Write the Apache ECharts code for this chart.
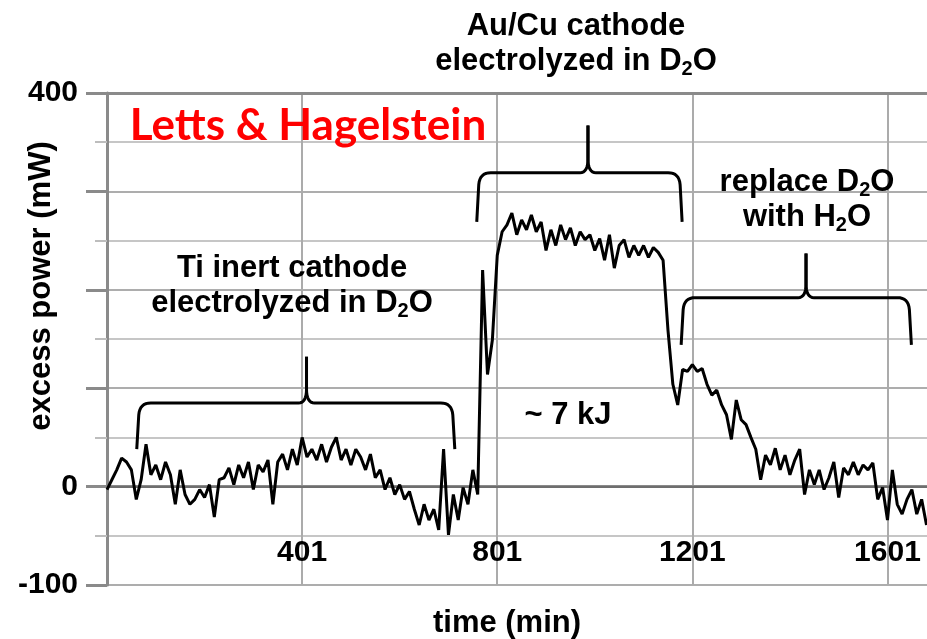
<!DOCTYPE html>
<html>
<head>
<meta charset="utf-8">
<title>Letts &amp; Hagelstein - excess power</title>
<script src="https://cdn.jsdelivr.net/npm/echarts@6/dist/echarts.min.js"></script>
<style>
    html, body { margin: 0; padding: 0; background: #fff; }
    #chart { width: 927px; height: 639px; }
</style>
</head>
<body>
<div id="chart"></div>
<script>
(function () {
    "use strict";

    // one reading every 10 min, first one at t = 1 min
    var startMin = 1;
    var stepMin = 10;

    // excess power (mW), by phase
    var powerTiD2O = [
        -3, 7, 17, 29, 25, 17, -13, 7, 43, 12,
        22, 7, 25, 12, -18, 17, -8, -18, -13, -3,
        -11, 2, -31, 7, 9, 19, 2, 22, 9, 25,
        -3, 22, 15, 27, -18, 25, 33, 17, 38, 22,
        50, 30, 38, 27, 43, 25, 40, 50, 27, 38,
        22, 38, 30, 17, 33, 9, 17, -3, 9, -8,
        2, -13, -5, -23, -39, -18, -34, -23, -44, 38,
        -49, -8, -34, -1, -18, 17, -8
    ];
    var powerAuCuD2O = [
        220, 114, 149, 235, 259, 266, 278, 256, 271, 261,
        276, 259, 269, 240, 261, 245, 266, 251, 263, 245,
        259, 251, 256, 240, 252, 230, 256, 222, 245, 251,
        233, 245, 235, 245, 233, 243, 238, 230, 159, 104
    ];
    var powerH2O = [
        83, 119, 117, 124, 117, 120, 104, 93, 98, 83,
        73, 48, 88, 68, 63, 50, 38, 7, 32, 22,
        39, 17, 32, 12, 27, 38, -8, 17, 2, 17,
        -3, 9, 25, -11, 19, 12, 25, 12, 22, 17,
        24, -13, -1, -34, 17, -18, -28, -13, -3, -28,
        -13, -39
    ];

    var timeTickLabels = [401, 801, 1201, 1601];
    var powerTickLabels = [-100, 0, 400];

    // braces: [from, to, stem, leg end, bar, tip] in axis units
    var braces = [
        [62, 714, 410, 38, 85, 132],
        [759, 1180, 987, 269, 319, 367],
        [1178, 1650, 1434, 144, 192, 237]
    ];

    var FONT = '"Liberation Sans", Arial, sans-serif';

    function buildSeriesData() {
        var all = powerTiD2O.concat(powerAuCuD2O, powerH2O);
        return all.map(function (v, i) {
            return [startMin + i * stepMin, v];
        });
    }

    function quad(p0, c, p1, out) {
        for (var k = 1; k <= 8; k++) {
            var t = k / 8, u = 1 - t;
            out.push([u * u * p0[0] + 2 * u * t * c[0] + t * t * p1[0],
                      u * u * p0[1] + 2 * u * t * c[1] + t * t * p1[1]]);
        }
    }

    function halfBrace(xEnd, yLeg, xStem, yBar, yTip, dir) {
        var pts = [[xEnd, yLeg], [xEnd + dir * 2, yBar + 12]];
        quad([xEnd + dir * 2, yBar + 12], [xEnd + dir * 3, yBar], [xEnd + dir * 14, yBar], pts);
        pts.push([xStem - dir * 8, yBar]);
        quad([xStem - dir * 8, yBar], [xStem, yBar], [xStem, yBar - 14], pts);
        pts.push([xStem, yTip]);
        return pts;
    }

    function renderBrace(params, api) {
        var a = api.coord([api.value(0), api.value(3)]);
        var b = api.coord([api.value(1), api.value(3)]);
        var m = api.coord([api.value(2), api.value(4)]);
        var tip = api.coord([api.value(2), api.value(5)]);
        var style = { fill: null, stroke: '#000', lineWidth: 3 };
        return {
            type: 'group',
            children: [
                { type: 'polyline', shape: { points: halfBrace(a[0], a[1], m[0], m[1], tip[1], 1) }, style: style },
                { type: 'polyline', shape: { points: halfBrace(b[0], b[1], m[0], m[1], tip[1], -1) }, style: style }
            ]
        };
    }

    function getXAxis() {
        return {
            type: 'value',
            min: 1,
            max: 1682,
            interval: 400,
            name: 'time (min)',
            nameLocation: 'middle',
            nameGap: 23,
            nameTextStyle: {
                color: '#000', fontFamily: FONT, fontWeight: 'bold', fontSize: 31,
                padding: [0, 20, 0, 0]
            },
            axisLine: { lineStyle: { color: '#8a8a8a', width: 3 } },
            axisTick: { show: false },
            axisLabel: {
                inside: true,
                margin: 17,
                showMinLabel: false,
                showMaxLabel: false,
                color: '#000',
                fontFamily: FONT,
                fontWeight: 'bold',
                fontSize: 30,
                formatter: function (v) {
                    return timeTickLabels.indexOf(v) >= 0 ? String(v) : '';
                }
            },
            splitLine: { show: true, showMaxLine: false, lineStyle: { color: '#ababab', width: 2 } }
        };
    }

    function getYAxis() {
        return {
            type: 'value',
            min: -100,
            max: 400,
            interval: 100,
            axisLine: { show: true, lineStyle: { color: '#8a8a8a', width: 3 } },
            axisTick: { show: true, length: 21, lineStyle: { color: '#8a8a8a', width: 3 } },
            minorTick: { show: true, splitNumber: 2, length: 12, lineStyle: { color: '#bdbdbd', width: 2 } },
            axisLabel: {
                margin: 29,
                color: '#000',
                fontFamily: FONT,
                fontWeight: 'bold',
                fontSize: 30,
                formatter: function (v) {
                    return powerTickLabels.indexOf(v) >= 0 ? String(v) : '';
                }
            },
            splitLine: { show: true, lineStyle: { color: '#adadad', width: 2 } },
            minorSplitLine: { show: true, lineStyle: { color: '#c6c6c6', width: 2 } }
        };
    }

    function labelText(text, x, y, extra, rotation) {
        var style = {
            text: text,
            x: 0,
            y: 0,
            align: 'center',
            verticalAlign: 'middle',
            fill: '#000',
            font: 'bold 31px ' + FONT,
            lineHeight: 35,
            rich: {
                s: { fontSize: 20, fontWeight: 'bold', fontFamily: FONT, lineHeight: 20, verticalAlign: 'bottom' }
            }
        };
        if (extra) {
            for (var k in extra) { style[k] = extra[k]; }
        }
        return { type: 'text', x: x, y: y, rotation: rotation || 0, z: 100, silent: true, style: style };
    }

    function getGraphic() {
        return [
            labelText('excess power (mW)', 41, 286, null, Math.PI / 2),
            labelText('Letts & Hagelstein', 308, 126, { font: 'bold 44px Lato, "Open Sans", sans-serif', fill: '#ff0000' }),
            labelText('Au/Cu cathode\nelectrolyzed in D{s|2}O', 576, 44),
            labelText('Ti inert cathode\nelectrolyzed in D{s|2}O', 292, 286),
            labelText('replace D{s|2}O\nwith H{s|2}O', 807, 200),
            labelText('~ 7 kJ', 568, 415)
        ];
    }

    var chart = echarts.init(document.getElementById('chart'), null, { renderer: 'canvas' });
    chart.setOption({
        animation: false,
        backgroundColor: '#fff',
        grid: { left: 107, right: 0, top: 93, bottom: 54, containLabel: false, outerBoundsMode: 'none' },
        xAxis: getXAxis(),
        yAxis: getYAxis(),
        graphic: getGraphic(),
        series: [
            {
                type: 'line',
                data: buildSeriesData(),
                showSymbol: false,
                lineStyle: { color: '#000', width: 3 },
                z: 5,
                markLine: {
                    silent: true,
                    symbol: 'none',
                    label: { show: false },
                    data: [
                        { yAxis: 0, lineStyle: { color: '#6e6e6e', width: 2, type: 'solid' } },
                        { yAxis: 400, lineStyle: { color: '#8a8a8a', width: 3, type: 'solid' } }
                    ]
                }
            },
            {
                type: 'custom',
                renderItem: renderBrace,
                data: braces,
                encode: { x: [0, 1, 2], y: [3, 4, 5] },
                silent: true,
                z: 6
            }
        ]
    });
}());
</script>
</body>
</html>
